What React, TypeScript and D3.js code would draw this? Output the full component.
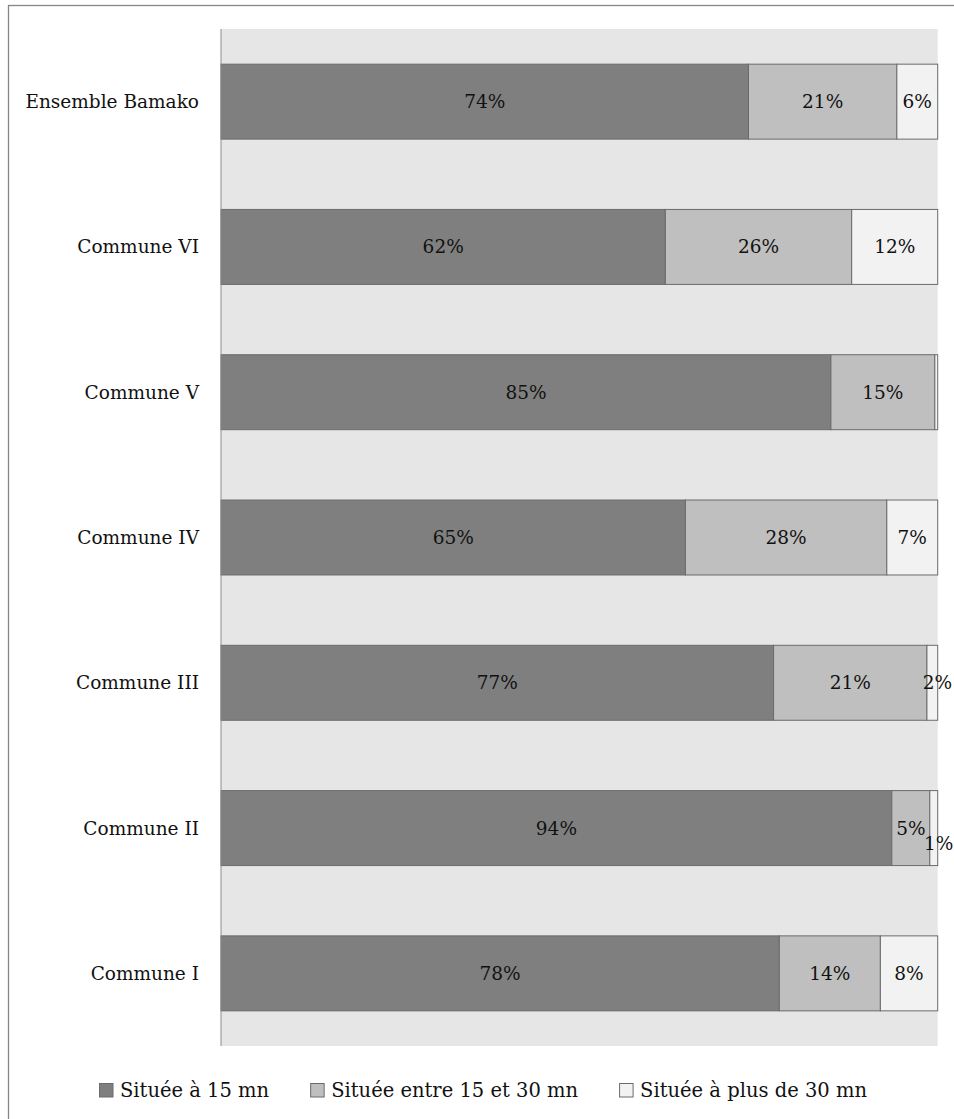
import React, { useEffect, useRef } from "react";
import * as d3 from "d3";

const categories = [
  "Ensemble Bamako",
  "Commune VI",
  "Commune V",
  "Commune IV",
  "Commune III",
  "Commune II",
  "Commune I",
];
const within15 = [73.6, 62.0, 85.1, 64.8, 77.1, 93.6, 77.9];
const between15and30 = [20.7, 26.0, 14.5, 28.1, 21.4, 5.3, 14.1];
const over30 = [5.7, 12.0, 0.4, 7.1, 1.5, 1.1, 8.0];
const seriesNames = [
  "Située à 15 mn",
  "Située entre 15 et 30 mn",
  "Située à plus de 30 mn",
];
const seriesKeys = ["a", "b", "c"];
const colors = ["#7f7f7f", "#bfbfbf", "#f2f2f2"];

const W = 954;
const H = 1119;
const FONT = "'DejaVu Serif', serif";

export default function App() {
  const ref = useRef<SVGSVGElement | null>(null);

  useEffect(() => {
    const svg = d3.select(ref.current);
    svg.selectAll("*").remove();

    const rows = categories.map((c, i) => ({
      cat: c,
      a: within15[i],
      b: between15and30[i],
      c: over30[i],
    }));

    const left = 221;
    const right = 937.7;
    const top = 29;
    const bottom = 1046;

    const x = d3.scaleLinear().domain([0, 100]).range([left, right]);
    const y = d3
      .scaleBand<string>()
      .domain(categories)
      .range([top, bottom])
      .paddingInner(0.484)
      .paddingOuter(0.242);

    // outer frame
    svg
      .append("rect")
      .attr("x", 8.5)
      .attr("y", 5.5)
      .attr("width", 1200)
      .attr("height", 1400)
      .attr("fill", "#fff")
      .attr("stroke", "#868686")
      .attr("stroke-width", 1.3);

    // plot background
    svg
      .append("rect")
      .attr("x", left)
      .attr("y", top)
      .attr("width", right - left)
      .attr("height", bottom - top)
      .attr("fill", "#e6e6e6");

    const stack = d3.stack<any>().keys(seriesKeys);
    const stacked = stack(rows);

    const g = svg.append("g");
    stacked.forEach((layer, si) => {
      g.selectAll(null)
        .data(layer)
        .enter()
        .append("rect")
        .attr("x", (d: any) => x(d[0]))
        .attr("y", (d: any) => y(d.data.cat)!)
        .attr("width", (d: any) => x(d[1]) - x(d[0]))
        .attr("height", y.bandwidth())
        .attr("fill", colors[si])
        .attr("stroke", "#6b6b6b")
        .attr("stroke-width", 1);
    });

    // y axis line
    svg
      .append("line")
      .attr("x1", left)
      .attr("x2", left)
      .attr("y1", top)
      .attr("y2", bottom)
      .attr("stroke", "#8c8c8c")
      .attr("stroke-width", 1);

    // category labels
    svg
      .append("g")
      .selectAll("text")
      .data(categories)
      .enter()
      .append("text")
      .attr("x", 199)
      .attr("y", (d) => y(d)! + y.bandwidth() / 2)
      .attr("dy", "0.35em")
      .attr("text-anchor", "end")
      .attr("font-family", FONT)
      .attr("font-size", 18.5)
      .attr("fill", "#111")
      .text((d) => d);

    // data labels
    const lg = svg.append("g");
    categories.forEach((cat, ci) => {
      let prevRight = -Infinity;
      stacked.forEach((layer) => {
        const d: any = layer[ci];
        const v = d[1] - d[0];
        const r = Math.round(v);
        if (r <= 0) return;
        const segW = x(d[1]) - x(d[0]);
        const cx = (x(d[0]) + x(d[1])) / 2;
        const cy = y(cat)! + y.bandwidth() / 2;
        const t = lg
          .append("text")
          .attr("x", cx)
          .attr("y", cy)
          .attr("dy", "0.35em")
          .attr("text-anchor", "middle")
          .attr("font-family", FONT)
          .attr("font-size", 18.5)
          .attr("fill", "#111")
          .text(r + "%");
        const w = (t.node() as SVGTextElement).getComputedTextLength();
        const overlaps = cx - w / 2 < prevRight - 2;
        if (w > segW) t.attr("x", cx + 5);
        if (overlaps) t.attr("y", cy + 15);
        prevRight = cx + w / 2;
      });
    });

    // legend
    const legend = svg.append("g");
    let lx = 99;
    seriesNames.forEach((name, i) => {
      legend
        .append("rect")
        .attr("x", lx + 0.5)
        .attr("y", 1083.5)
        .attr("width", 13.5)
        .attr("height", 13.5)
        .attr("fill", colors[i])
        .attr("stroke", "#6b6b6b")
        .attr("stroke-width", 1);
      const t = legend
        .append("text")
        .attr("x", lx + 21)
        .attr("y", 1090)
        .attr("dy", "0.35em")
        .attr("font-family", FONT)
        .attr("font-size", 19.5)
        .attr("fill", "#111")
        .text(name);
      const w = (t.node() as SVGTextElement).getComputedTextLength();
      lx = lx + 21 + w + 41;
    });
  }, []);

  return (
    <svg
      ref={ref}
      width={W}
      height={H}
      style={{ position: "absolute", left: 0, top: 0, display: "block" }}
    />
  );
}
